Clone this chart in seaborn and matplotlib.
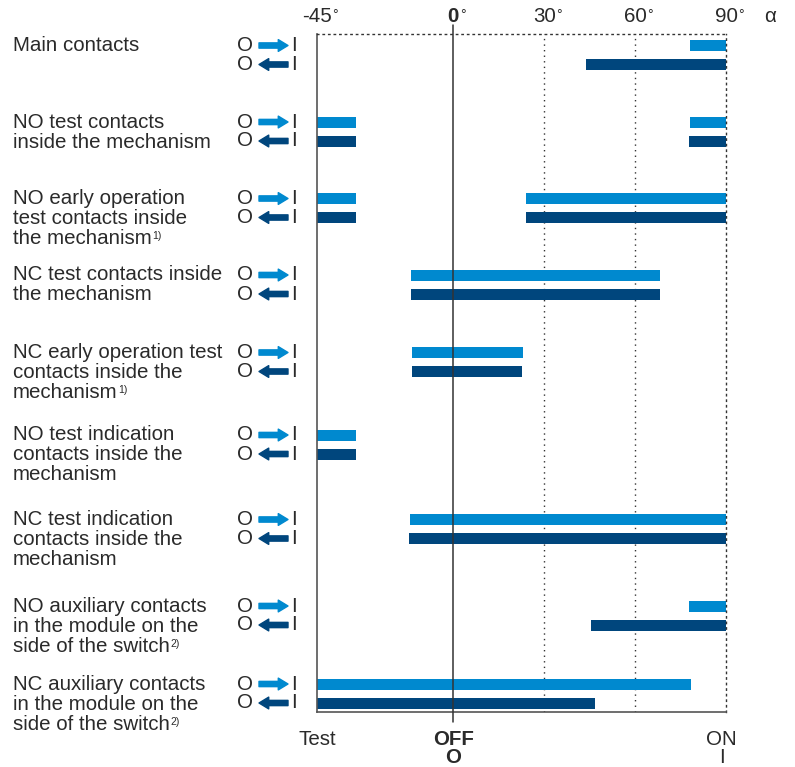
import matplotlib
matplotlib.use("Agg")
import matplotlib.pyplot as plt
import matplotlib.transforms as mtransforms
import seaborn as sns
import pandas as pd

# ---------------- data ----------------
categories = [
    "Main contacts",
    "NO test contacts\ninside the mechanism",
    "NO early operation\ntest contacts inside\nthe mechanism",
    "NC test contacts inside\nthe mechanism",
    "NC early operation test\ncontacts inside the\nmechanism",
    "NO test indication\ncontacts inside the\nmechanism",
    "NC test indication\ncontacts inside the\nmechanism",
    "NO auxiliary contacts\nin the module on the\nside of the switch",
    "NC auxiliary contacts\nin the module on the\nside of the switch",
]
footnotes = ["", "", "1)", "", "1)", "", "", "2)", "2)"]
# closing O -> I : contact closed intervals (degrees)
closing_segments = [
    [(78, 90)],
    [(-45, -32), (78, 90)],
    [(-45, -32), (24, 90)],
    [(-14, 68.3)],
    [(-13.5, 23)],
    [(-45, -32)],
    [(-14.2, 90)],
    [(77.7, 90)],
    [(-45, 78.3)],
]
# opening O <- I
opening_segments = [
    [(43.8, 90)],
    [(-45, -32), (77.7, 90)],
    [(-45, -32), (24, 90)],
    [(-14, 68.3)],
    [(-13.8, 22.8)],
    [(-45, -32)],
    [(-14.5, 90)],
    [(45.3, 90)],
    [(-45, 46.7)],
]
tick_values = [-45, 0, 30, 60, 90]
tick_labels = ["-45", "0", "30", "60", "90"]
bottom_labels = [(-45, "Test", ""), (0, "OFF", "O"), (88.5, "ON", "I")]

# ---------------- layout / style ----------------
W, H = 795, 767
row_centers = [55, 131.5, 208, 284.5, 362, 444.5, 529, 615.5, 693.5]
pair_offset = 9.5
bar_h = 11
line_step = 20
light = "#0089CF"
dark = "#00467D"
txt_color = "#2a2a2a"
FS = 14.8

sns.set_style("white")
plt.rcParams["font.family"] = ["Liberation Sans", "DejaVu Sans"]

rows = []
for i, cat in enumerate(categories):
    for s, e in closing_segments[i]:
        rows.append(dict(row=i, kind="close", start=s, end=e))
    for s, e in opening_segments[i]:
        rows.append(dict(row=i, kind="open", start=s, end=e))
df = pd.DataFrame(rows)

fig = plt.figure(figsize=(W / 100, H / 100), dpi=100)
ax = fig.add_axes([317 / W, 1 - 712 / H, 409 / W, 678 / H])
ax.set_xlim(-45, 90)
ax.set_ylim(712, 34)

df["y"] = [row_centers[r] + (-pair_offset if k == "close" else pair_offset)
           for r, k in zip(df["row"], df["kind"])]
df["color"] = [light if k == "close" else dark for k in df["kind"]]
ax.barh(df["y"], df["end"] - df["start"], left=df["start"], height=bar_h,
        color=df["color"], zorder=2, linewidth=0)

# grid / spines
dot = (0, (1, 3))
for xv in [30, 60]:
    ax.axvline(xv, color="#333333", lw=1.0, linestyle=dot, zorder=1)
ax.axvline(0, ymin=-0.015, ymax=1.013, color="#333333", lw=1.1, zorder=3, clip_on=False)
for side in ["top", "right"]:
    ax.spines[side].set_linestyle(dot)
    ax.spines[side].set_color("#333333")
    ax.spines[side].set_linewidth(1.0)
for side in ["left", "bottom"]:
    ax.spines[side].set_color("#555555")
    ax.spines[side].set_linewidth(1.2)
ax.set_xticks([])
ax.set_yticks([])

figx = mtransforms.blended_transform_factory(fig.transFigure, ax.transData)

# left category labels and O/I arrows
for i, cat in enumerate(categories):
    yl = row_centers[i] - pair_offset
    yd = row_centers[i] + pair_offset
    lines = cat.split("\n")
    for j, line in enumerate(lines):
        t = ax.text(13 / W, yl + 5.5 + j * line_step, line, transform=figx,
                    fontsize=FS, color=txt_color, ha="left", va="baseline")
        if j == len(lines) - 1 and footnotes[i]:
            ax.annotate(footnotes[i], xy=(1, 0), xycoords=t, xytext=(0.5, 5),
                        textcoords="offset points", fontsize=7.5, color=txt_color,
                        ha="left", va="bottom")
    for yy, col, a, b in [(yl, light, 259, 288), (yd, dark, 288, 259)]:
        ax.text(245.5 / W, yy + 5.5, "O", transform=figx, fontsize=FS,
                color=txt_color, ha="center", va="baseline")
        ax.text(294 / W, yy + 5.5, "I", transform=figx, fontsize=FS,
                color=txt_color, ha="center", va="baseline")
        ax.annotate("", xy=(b / W, yy), xytext=(a / W, yy),
                    xycoords=figx, textcoords=figx,
                    arrowprops=dict(arrowstyle="simple,head_length=0.7,head_width=0.85,tail_width=0.38",
                                    color=col, shrinkA=0, shrinkB=0, mutation_scale=10),
                    annotation_clip=False)

# top degree labels
for v, lab in zip(tick_values, tick_labels):
    t = ax.text(v, 22, lab, fontsize=FS, color=txt_color, ha="center", va="baseline",
                fontweight="bold" if v == 0 else "normal", clip_on=False)
    ax.annotate("°", xy=(1, 1), xycoords=t, xytext=(0.5, -1), textcoords="offset points",
                fontsize=10, color=txt_color, ha="left", va="top")
ax.text(770 / W, 22, "α", transform=figx, fontsize=FS, color=txt_color,
        ha="center", va="baseline")

# bottom state labels
for v, l1, l2 in bottom_labels:
    bold = "bold" if v == 0 else "normal"
    ax.text(v, 745, l1, fontsize=FS, color=txt_color, ha="center", va="baseline",
            fontweight=bold, clip_on=False)
    if l2:
        ax.text(v, 763, l2, fontsize=FS, color=txt_color, ha="center", va="baseline",
                fontweight=bold, clip_on=False)

fig.savefig("out.png", dpi=100)
